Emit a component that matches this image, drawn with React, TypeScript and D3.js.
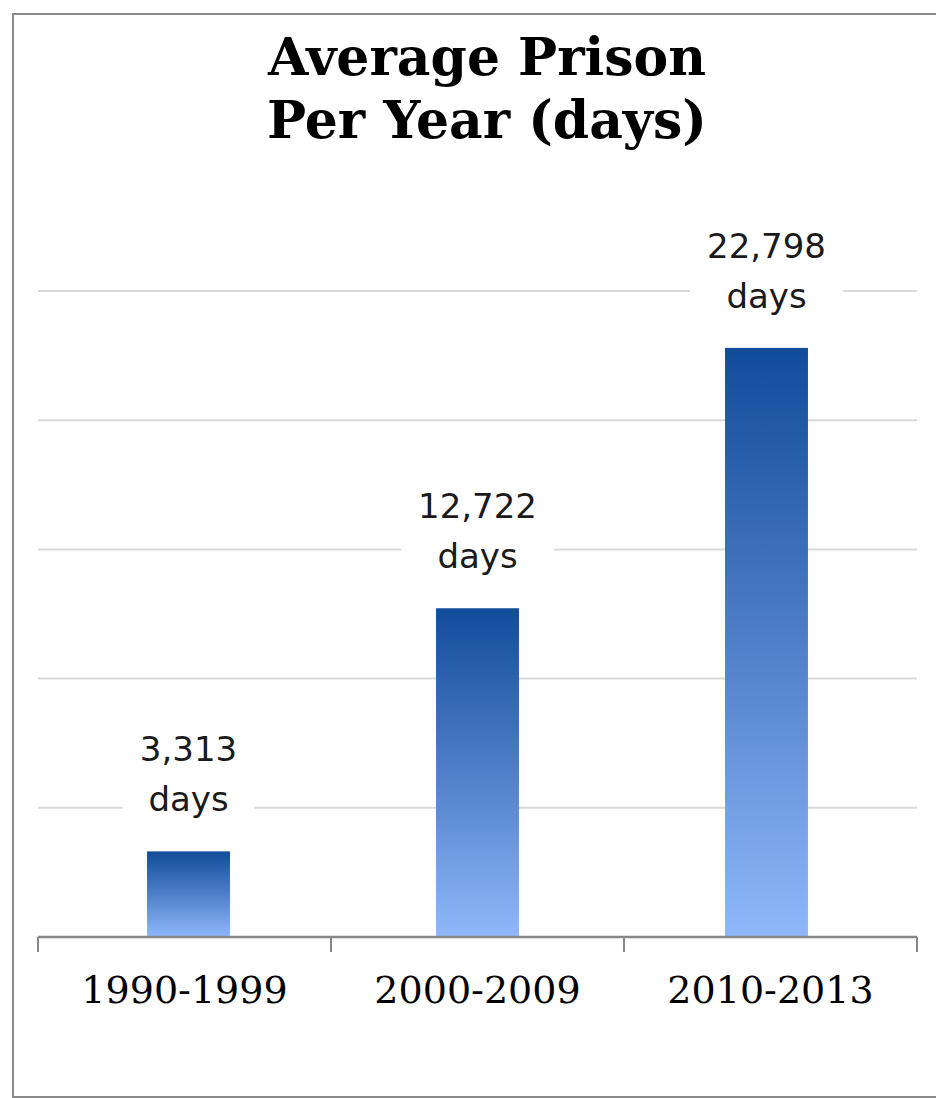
import React, { useEffect, useRef } from "react";
import * as d3 from "d3";

const categories = ["1990-1999", "2000-2009", "2010-2013"];
const values = [3313, 12722, 22798];
const gridTicks = [5000, 10000, 15000, 20000, 25000];
const titleLines = ["Average Prison", "Per Year (days)"];
const unitLabel = "days";

const App: React.FC = () => {
  const ref = useRef<SVGSVGElement | null>(null);

  useEffect(() => {
    const svg = d3.select(ref.current);
    svg.selectAll("*").remove();

    const W = 936;
    const H = 1098;
    const left = 38;
    const right = 917;
    const baseY = 937;
    const topY = 291;

    // chart border
    svg
      .append("rect")
      .attr("x", 13)
      .attr("y", 14)
      .attr("width", W + 20)
      .attr("height", H - 15)
      .attr("fill", "#fff")
      .attr("stroke", "#8a8a8a")
      .attr("stroke-width", 2);

    // gradient for bars
    const defs = svg.append("defs");
    const grad = defs
      .append("linearGradient")
      .attr("id", "barGrad")
      .attr("x1", 0)
      .attr("y1", 0)
      .attr("x2", 0)
      .attr("y2", 1);
    grad.append("stop").attr("offset", "0%").attr("stop-color", "#114c9b");
    grad.append("stop").attr("offset", "50%").attr("stop-color", "#4f7fc8");
    grad.append("stop").attr("offset", "100%").attr("stop-color", "#8fb8fb");

    // axis band (ticks) and bar band (slightly inset, like the original)
    const xAxis = d3.scaleBand().domain(categories).range([left, right]);
    const x = d3
      .scaleBand()
      .domain(categories)
      .range([left + 6, right - 6])
      .paddingInner(0.713)
      .paddingOuter(0.713 / 2);

    const y = d3.scaleLinear().domain([0, 25000]).range([baseY, topY]);

    // title
    svg
      .append("g")
      .selectAll("text")
      .data(titleLines)
      .join("text")
      .attr("x", 487)
      .attr("y", (_, i) => 75 + i * 63)
      .attr("text-anchor", "middle")
      .style("font-family", "'DejaVu Serif', serif")
      .style("font-weight", "bold")
      .style("font-size", "52px")
      .attr("fill", "#000")
      .text((d) => d);

    // gridlines
    svg
      .append("g")
      .selectAll("line")
      .data(gridTicks)
      .join("line")
      .attr("x1", left)
      .attr("x2", right)
      .attr("y1", (d) => y(d))
      .attr("y2", (d) => y(d))
      .attr("stroke", "#d9d9d9")
      .attr("stroke-width", 2);

    // bars
    svg
      .append("g")
      .selectAll("rect")
      .data(values)
      .join("rect")
      .attr("x", (_, i) => x(categories[i])!)
      .attr("y", (d) => y(d))
      .attr("width", x.bandwidth())
      .attr("height", (d) => baseY - y(d))
      .attr("fill", "url(#barGrad)");

    // data labels with white boxes
    const fmt = d3.format(",");
    const labels = svg
      .append("g")
      .selectAll("g")
      .data(values)
      .join("g")
      .attr(
        "transform",
        (d, i) => `translate(${x(categories[i])! + x.bandwidth() / 2},${y(d)})`
      );

    labels.each(function (d) {
      const g = d3.select(this);
      const t1 = g
        .append("text")
        .attr("y", -90)
        .attr("text-anchor", "middle")
        .style("font-family", "'DejaVu Sans', sans-serif")
        .style("font-size", "34px")
        .attr("fill", "#1a1a1a")
        .text(fmt(d));
      g.append("text")
        .attr("y", -40)
        .attr("text-anchor", "middle")
        .style("font-family", "'DejaVu Sans', sans-serif")
        .style("font-size", "34px")
        .attr("fill", "#1a1a1a")
        .text(unitLabel);
      const w = (t1.node() as SVGTextElement).getComputedTextLength() + 34;
      g.insert("rect", "text")
        .attr("x", -w / 2)
        .attr("y", -122)
        .attr("width", w)
        .attr("height", 96)
        .attr("fill", "#fff");
    });

    // x axis
    const axis = svg.append("g");
    axis
      .append("line")
      .attr("x1", left)
      .attr("x2", right)
      .attr("y1", baseY)
      .attr("y2", baseY)
      .attr("stroke", "#878787")
      .attr("stroke-width", 2.5);

    const tickXs = categories.map((c) => xAxis(c)!);
    tickXs.push(right);
    axis
      .selectAll("line.tick")
      .data(tickXs)
      .join("line")
      .attr("class", "tick")
      .attr("x1", (d) => d)
      .attr("x2", (d) => d)
      .attr("y1", baseY)
      .attr("y2", baseY + 15)
      .attr("stroke", "#878787")
      .attr("stroke-width", 2);

    axis
      .selectAll("text")
      .data(categories)
      .join("text")
      .attr("x", (d) => xAxis(d)! + xAxis.bandwidth() / 2)
      .attr("y", 1003)
      .attr("text-anchor", "middle")
      .style("font-family", "'DejaVu Serif', serif")
      .style("font-size", "38px")
      .attr("fill", "#000")
      .text((d) => d);
  }, []);

  return (
    <svg
      ref={ref}
      width={936}
      height={1098}
      style={{ position: "absolute", left: 0, top: 0, display: "block", background: "#fff" }}
    />
  );
};

export default App;
